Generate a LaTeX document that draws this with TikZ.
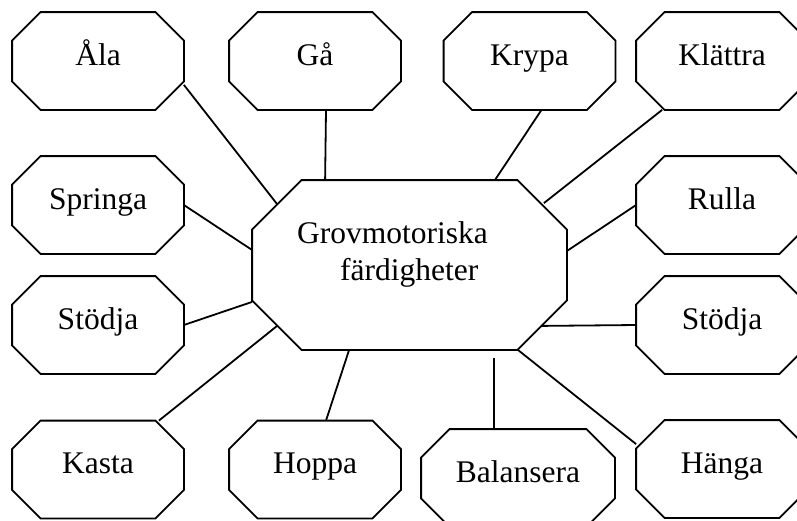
\documentclass[tikz,border=0pt]{standalone}
\usepackage{fontspec}
\setmainfont{Liberation Serif}
\usepackage{tikz}

% octagon drawn round a rectangular node, #2 = size of the cut corners
\newcommand\octbox[2]{\draw ([xshift=#2]#1.north west)--([xshift=-#2]#1.north east)--([yshift=-#2]#1.north east)--([yshift=#2]#1.south east)--([xshift=-#2]#1.south east)--([xshift=#2]#1.south west)--([yshift=#2]#1.south west)--([yshift=-#2]#1.north west)--cycle;}

\begin{document}
\begin{tikzpicture}[x=1pt,y=-1pt,line width=1.8pt,font=\fontsize{31.5pt}{37pt}\selectfont,
  oct/.style={minimum width=170pt,minimum height=96pt,inner sep=0pt,text height=20pt,text depth=12pt}]
\useasboundingbox (0,0) rectangle (797,520);
\clip (0,0) rectangle (797,520);
% the middle
\node[oct,minimum width=313pt,minimum height=168pt,label={[align=left,xshift=-17pt,yshift=10.6pt]center:Grovmotoriska\\\hspace*{43pt}färdigheter}] (grov) at (409.5,265) {};
% the skills round it
\node[oct] (ala) at (98,61) {Åla};
\node[oct] (ga) at (315,61) {Gå};
\node[oct] (krypa) at (529.5,61) {Krypa};
\node[oct] (klattra) at (722,61) {Klättra};
\node[oct] (springa) at (98,205) {Springa};
\node[oct] (rulla) at (722,205) {Rulla};
\node[oct] (stodjal) at (98,325) {Stödja};
\node[oct] (stodjar) at (722,325) {Stödja};
\node[oct] (kasta) at (98,469.5) {Kasta};
\node[oct] (hoppa) at (315,469.5) {Hoppa};
\node[oct,minimum width=192pt] (balansera) at (518,478) {Balansera};
\node[oct] (hanga) at (722,469) {Hänga};
\foreach \n in {ala,ga,krypa,klattra,springa,rulla,stodjal,stodjar,kasta,hoppa,balansera,hanga}{\octbox{\n}{28.5pt}}
\octbox{grov}{49.5pt}
% lines
\draw ([yshift=25pt]ala.south east)--([xshift=25pt,yshift=-24pt]grov.north west);
\draw ([xshift=11pt]ga.south)--([xshift=73pt]grov.north west);
\draw ([xshift=12pt]krypa.south)--([xshift=-72pt]grov.north east);
\draw ([xshift=26pt]klattra.south west)--([xshift=-23pt,yshift=-23pt]grov.north east);
\draw (springa.east)--([yshift=15pt]grov.west);
\draw (rulla.west)--([yshift=14pt]grov.east);
\draw (stodjal.east)--([yshift=48pt]grov.south west);
\draw ([xshift=-25pt]kasta.north east)--([xshift=25pt,yshift=24pt]grov.south west);
\draw ([xshift=11pt]hoppa.north)--([xshift=97pt]grov.south west);
\draw (stodjar.west)--([xshift=-25pt,yshift=24pt]grov.south east);
\coordinate (balend) at (494,358);
\draw ([xshift=-24pt]balansera.north)--(balend);
\draw ([xshift=-49pt]grov.south east)--([yshift=-24pt]hanga.north west);
\end{tikzpicture}
\end{document}
